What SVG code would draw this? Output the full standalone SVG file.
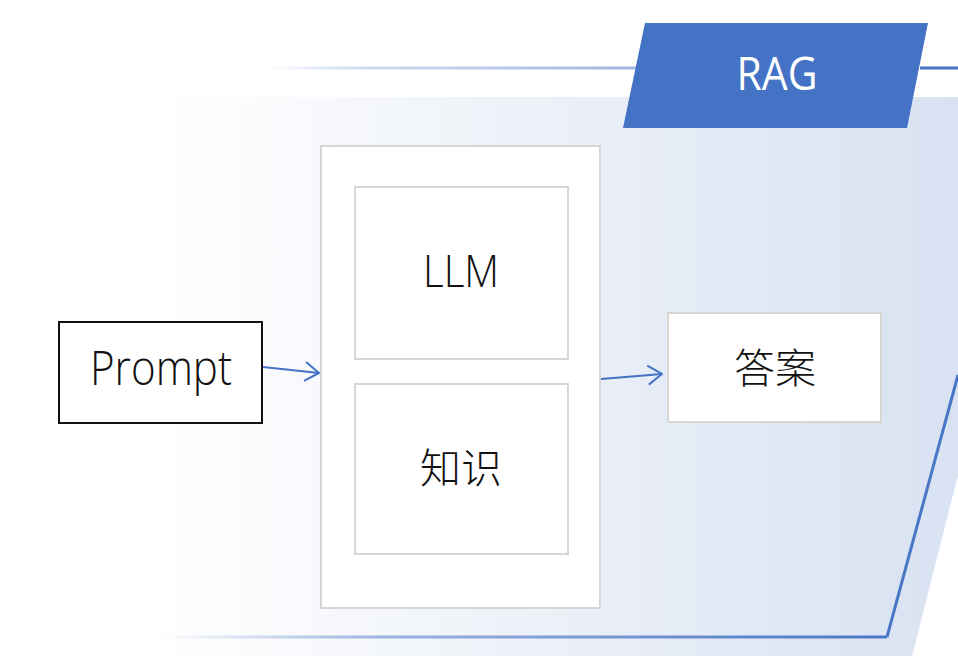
<svg xmlns="http://www.w3.org/2000/svg" width="958" height="656" viewBox="0 0 958 656">
<style>
.lbl{font-family:"Open Sans","Noto Sans",sans-serif;font-weight:300;fill:#111;}
.cjk{font-family:"Noto Sans CJK SC","Noto Sans",sans-serif;font-weight:300;fill:#111;}
.box{fill:#ffffff;stroke:#d8d6d0;stroke-width:2;}
.conn{stroke:#4472c4;stroke-width:2;fill:none;}
</style>
<defs>
<linearGradient id="panelG" gradientUnits="userSpaceOnUse" x1="0" y1="0" x2="958" y2="0">
<stop offset="0" stop-color="#ffffff"/>
<stop offset="0.16" stop-color="#ffffff"/>
<stop offset="0.55" stop-color="#edf1f8"/>
<stop offset="1" stop-color="#d8e2f2"/>
</linearGradient>
<linearGradient id="lineTop" gradientUnits="userSpaceOnUse" x1="270" y1="0" x2="645" y2="0">
<stop offset="0" stop-color="#4472c4" stop-opacity="0"/>
<stop offset="0.3" stop-color="#7f9dd4" stop-opacity="0.4"/>
<stop offset="1" stop-color="#6a8dcf" stop-opacity="0.65"/>
</linearGradient>
<linearGradient id="lineBot" gradientUnits="userSpaceOnUse" x1="160" y1="0" x2="887" y2="0">
<stop offset="0" stop-color="#4472c4" stop-opacity="0"/>
<stop offset="0.3" stop-color="#4472c4" stop-opacity="0.5"/>
<stop offset="1" stop-color="#4472c4" stop-opacity="0.95"/>
</linearGradient>
<marker id="arr" viewBox="0 0 16 22" refX="15" refY="11" markerWidth="16" markerHeight="22" markerUnits="userSpaceOnUse" orient="auto">
<path d="M1,1.5 L15,11 L1,20.5" fill="none" stroke="#4472c4" stroke-width="2"/>
</marker>
</defs>
<rect width="958" height="656" fill="#ffffff"/>
<g id="background">
<polygon points="0,97 1000,97 1000,310 912,656 0,656" fill="url(#panelG)"/>
<line x1="270" y1="68" x2="645" y2="68" stroke="url(#lineTop)" stroke-width="3"/>
<line x1="920" y1="68" x2="958" y2="68" stroke="#4472c4" stroke-width="3"/>
<line x1="160" y1="637" x2="887" y2="637" stroke="url(#lineBot)" stroke-width="3"/>
<line x1="887" y1="637" x2="958" y2="375" stroke="#4a76c6" stroke-width="3"/>
</g>
<g id="rag-banner">
<polygon points="645,23 928,23 907,128 623,128" fill="#4472c4"/>
<text x="777" y="90" font-family="Open Sans,Noto Sans,sans-serif" font-size="46" fill="#ffffff" text-anchor="middle" textLength="81" lengthAdjust="spacingAndGlyphs">RAG</text>
</g>
<g id="node-prompt">
<rect x="59" y="322" width="203" height="101" fill="#ffffff" stroke="#111" stroke-width="2"/>
<text class="lbl" x="161" y="385" font-size="48" text-anchor="middle" textLength="142" lengthAdjust="spacingAndGlyphs">Prompt</text>
</g>
<g id="node-rag-system">
<rect class="box" x="321" y="146" width="279" height="462"/>
</g>
<g id="node-llm">
<rect class="box" x="355" y="187" width="213" height="172"/>
<text class="lbl" x="461" y="287" font-size="45" text-anchor="middle" textLength="76" lengthAdjust="spacingAndGlyphs">LLM</text>
</g>
<g id="node-knowledge">
<rect class="box" x="355" y="384" width="213" height="170"/>
<text class="cjk" x="461" y="483" font-size="41" text-anchor="middle">知识</text>
</g>
<g id="node-answer">
<rect class="box" x="668" y="313" width="213" height="109"/>
<text class="cjk" x="775" y="383" font-size="41" text-anchor="middle">答案</text>
</g>
<g id="connectors">
<line class="conn" x1="263" y1="367" x2="319" y2="373" marker-end="url(#arr)"/>
<line class="conn" x1="601" y1="379" x2="662" y2="374" marker-end="url(#arr)"/>
</g>
</svg>
